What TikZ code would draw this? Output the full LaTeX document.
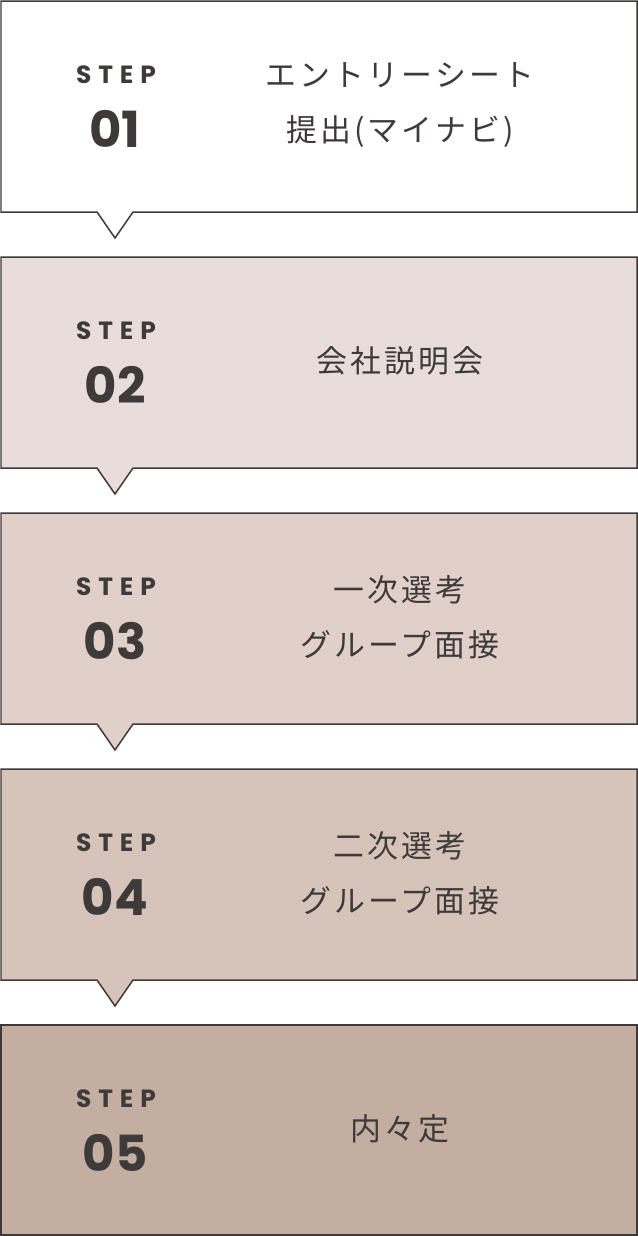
\documentclass[tikz,border=0pt]{standalone}
\usepackage{fontspec}
\setmainfont{Poppins}
\newfontfamily\cjk[LetterSpace=10]{Noto Sans CJK JP}
\definecolor{ink}{HTML}{3E3A39}
\definecolor{cA}{HTML}{FFFFFF}
\definecolor{cB}{HTML}{E8DDDA}
\definecolor{cC}{HTML}{E0D0C9}
\definecolor{cD}{HTML}{D6C4BA}
\definecolor{cE}{HTML}{C4ADA1}
\begin{document}
\begin{tikzpicture}[x=1bp,y=-1bp,
  steplbl/.style={font=\fontsize{25}{26}\selectfont\bfseries, text=ink},
  numlbl/.style={font=\fontsize{50}{50}\selectfont\bfseries, text=ink},
  jplbl/.style={font=\cjk\fontsize{31}{55}\selectfont, text=ink, align=center}]
\useasboundingbox (0,0) rectangle (638,1236);
\foreach \i/\c/\n/\t in {0/cA/01/{エントリーシート\\提出(マイナビ)},1/cB/02/{会社説明会},2/cC/03/{一次選考\\グループ面接},3/cD/04/{二次選考\\グループ面接},4/cE/05/{内々定}}{
  \pgfmathsetmacro\top{1+256*\i}
  \pgfmathsetmacro\bot{\top+211}
  \ifnum\i<4
    \draw[ink,line width=1.5,fill=\c] (1,\top) -- (637,\top) -- (637,\bot) -- (133,\bot) -- (115,\bot+26) -- (97,\bot) -- (1,\bot) -- cycle;
  \else
    \draw[ink,line width=1.5,fill=\c] (1,\top) rectangle (637,1235);
  \fi
  \node[steplbl] (s\i) at (116,\top+74) {S\hspace{7pt}T\hspace{7pt}E\hspace{7pt}P};
  \node[numlbl] (n\i) at (115,\top+128) {\n};
  \node[jplbl] (t\i) at (400,\top+104) {\t};
}
\end{tikzpicture}
\end{document}
